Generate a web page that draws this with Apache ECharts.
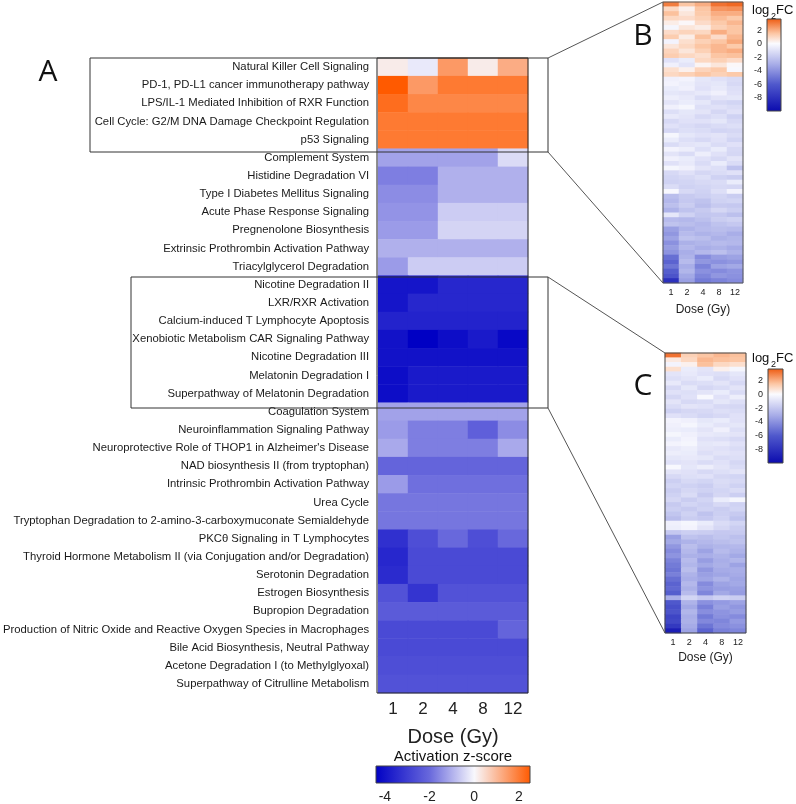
<!DOCTYPE html>
<html>
<head>
<meta charset="utf-8">
<script src="https://cdn.jsdelivr.net/npm/echarts@6/dist/echarts.min.js"></script>
<style>
  html, body { margin: 0; padding: 0; background: #ffffff; }
  #chart { width: 796px; height: 804px; }
</style>
</head>
<body>
<div id="chart"></div>
<script>
const doses = ["1", "2", "4", "8", "12"];

const pathways = [
  "Natural Killer Cell Signaling",
  "PD-1, PD-L1 cancer immunotherapy pathway",
  "LPS/IL-1 Mediated Inhibition of RXR Function",
  "Cell Cycle: G2/M DNA Damage Checkpoint Regulation",
  "p53 Signaling",
  "Complement System",
  "Histidine Degradation VI",
  "Type I Diabetes Mellitus Signaling",
  "Acute Phase Response Signaling",
  "Pregnenolone Biosynthesis",
  "Extrinsic Prothrombin Activation Pathway",
  "Triacylglycerol Degradation",
  "Nicotine Degradation II",
  "LXR/RXR Activation",
  "Calcium-induced T Lymphocyte Apoptosis",
  "Xenobiotic Metabolism CAR Signaling Pathway",
  "Nicotine Degradation III",
  "Melatonin Degradation I",
  "Superpathway of Melatonin Degradation",
  "Coagulation System",
  "Neuroinflammation Signaling Pathway",
  "Neuroprotective Role of THOP1 in Alzheimer's Disease",
  "NAD biosynthesis II (from tryptophan)",
  "Intrinsic Prothrombin Activation Pathway",
  "Urea Cycle",
  "Tryptophan Degradation to 2-amino-3-carboxymuconate Semialdehyde",
  "PKCθ Signaling in T Lymphocytes",
  "Thyroid Hormone Metabolism II (via Conjugation and/or Degradation)",
  "Serotonin Degradation",
  "Estrogen Biosynthesis",
  "Bupropion Degradation",
  "Production of Nitric Oxide and Reactive Oxygen Species in Macrophages",
  "Bile Acid Biosynthesis, Neutral Pathway",
  "Acetone Degradation I (to Methylglyoxal)",
  "Superpathway of Citrulline Metabolism"
];

// activation z-score, one row per pathway, columns = doses
const zScores = [
  [0.2, -0.2, 1.5, 0.2, 1.2],
  [2.5, 1.5, 2.0, 2.0, 2.0],
  [2.2, 1.8, 1.8, 1.8, 1.8],
  [2.0, 2.0, 2.0, 2.0, 2.0],
  [2.0, 2.0, 2.0, 2.0, 2.0],
  [-1.2, -1.2, -1.2, -1.2, -0.4],
  [-1.7, -1.7, -1.0, -1.0, -1.0],
  [-1.5, -1.5, -1.0, -1.0, -1.0],
  [-1.4, -1.4, -0.6, -0.6, -0.6],
  [-1.3, -1.3, -0.5, -0.5, -0.5],
  [-1.0, -1.0, -1.0, -1.0, -1.0],
  [-1.3, -0.6, -0.6, -0.6, -0.6],
  [-3.9, -3.9, -3.5, -3.5, -3.5],
  [-3.9, -3.5, -3.5, -3.5, -3.5],
  [-3.6, -3.6, -3.6, -3.6, -3.6],
  [-4.0, -4.4, -4.1, -3.8, -4.2],
  [-4.0, -4.0, -4.0, -4.0, -4.0],
  [-4.1, -3.8, -3.8, -3.8, -3.8],
  [-4.1, -3.8, -3.8, -3.8, -3.8],
  [-1.2, -1.2, -1.2, -1.2, -1.2],
  [-1.3, -1.7, -1.7, -2.2, -1.5],
  [-1.1, -1.7, -1.7, -1.7, -1.1],
  [-2.1, -2.1, -2.1, -2.1, -2.1],
  [-1.3, -1.9, -1.9, -1.9, -1.9],
  [-1.8, -1.8, -1.8, -1.8, -1.8],
  [-1.8, -1.8, -1.8, -1.8, -1.8],
  [-3.3, -2.6, -2.0, -2.6, -2.0],
  [-3.5, -2.7, -2.7, -2.7, -2.7],
  [-3.4, -2.7, -2.7, -2.7, -2.7],
  [-2.5, -3.2, -2.5, -2.5, -2.5],
  [-2.3, -2.3, -2.3, -2.3, -2.3],
  [-2.7, -2.7, -2.7, -2.7, -2.1],
  [-2.7, -2.7, -2.7, -2.7, -2.7],
  [-2.6, -2.6, -2.6, -2.6, -2.6],
  [-2.5, -2.5, -2.5, -2.5, -2.5]
];

// log2FC of genes in the upper boxed pathways (panel B)
const geneFcB = [
  [3.0, 1.5, 2.0, 3.2, 3.4], [1.0, 0.3, 1.5, 2.5, 2.6], [1.6, 0.6, 1.4, 2.0, 2.0],
  [1.0, 0.9, 1.2, 1.7, 1.4], [0.4, 0.1, 0.9, 1.4, 1.8], [-0.2, 0.6, 0.4, 1.2, 1.5],
  [0.9, 1.1, 1.0, 2.0, 1.5], [1.3, 0.4, 1.6, 0.9, 1.8], [-0.3, 0.8, 1.2, 1.5, 2.1],
  [0.6, 1.0, 1.5, 1.8, 1.4], [1.1, 0.6, 1.2, 1.8, 2.0], [1.3, 1.0, 0.8, 1.5, 1.6],
  [-1.0, -0.6, 1.0, 1.2, 0.9], [-0.4, -0.9, 0.2, 0.6, 0.1], [0.8, 0.3, 1.1, 1.4, -0.1],
  [1.0, 1.2, 1.5, 1.2, 1.4], [-0.4, -0.3, -0.8, -1.0, -1.2], [-0.3, -0.5, -0.9, -0.8, -1.3],
  [-0.6, -0.4, -1.0, -0.7, -1.1], [-0.8, -0.9, -0.7, -0.4, -1.0], [-0.5, -0.7, -1.2, -0.9, -0.8],
  [-0.9, -0.6, -0.8, -1.3, -1.5], [-0.4, -0.2, -1.1, -1.0, -1.2], [-1.1, -0.8, -0.9, -1.4, -1.0],
  [-0.7, -0.9, -1.3, -1.1, -1.6], [-1.3, -1.0, -1.0, -0.8, -1.3], [-1.0, -1.2, -1.4, -1.2, -1.1],
  [-1.4, -1.1, -1.2, -1.5, -1.4], [-0.2, -0.8, -1.0, -0.9, -1.2], [-0.6, -1.1, -1.3, -1.0, -1.5],
  [-1.2, -0.9, -0.8, -1.2, -1.0], [-0.3, -0.5, -1.1, -0.6, -1.3], [-0.9, -1.2, -0.5, -1.0, -1.4],
  [-0.4, -0.6, -1.0, -1.3, -0.9], [-1.0, -0.7, -1.2, -0.6, -1.2], [-0.2, -0.4, -0.9, -1.1, -2.2],
  [-1.3, -1.0, -1.4, -1.2, -1.0], [-1.5, -1.3, -1.1, -1.6, -1.8], [-1.6, -1.5, -1.3, -1.2, -0.6],
  [-1.2, -1.6, -1.5, -1.3, -1.4], [-0.1, -1.3, -1.6, -1.1, -0.3], [-2.4, -1.9, -1.7, -1.5, -1.8],
  [-2.6, -2.0, -2.2, -1.6, -1.5], [-2.3, -1.8, -2.4, -1.9, -2.0], [-2.8, -2.2, -1.9, -1.4, -1.7],
  [-0.8, -1.6, -2.1, -2.0, -2.3], [-2.5, -2.6, -2.3, -1.8, -1.6], [-2.2, -2.4, -2.6, -2.2, -2.0],
  [-3.5, -2.8, -2.5, -2.4, -2.5], [-3.8, -2.5, -2.8, -2.6, -3.0], [-3.4, -2.2, -2.4, -2.9, -2.7],
  [-4.0, -2.9, -2.7, -2.5, -2.6], [-3.6, -2.6, -3.0, -2.8, -3.1], [-3.9, -3.0, -2.6, -2.3, -2.8],
  [-5.2, -2.8, -4.2, -3.6, -3.4], [-5.6, -2.5, -3.8, -4.0, -3.8], [-5.0, -3.0, -4.5, -3.4, -3.2],
  [-5.8, -2.7, -4.0, -4.2, -3.9], [-6.2, -3.2, -4.4, -3.8, -4.0], [-8.0, -3.5, -4.8, -4.5, -4.2]
];

// log2FC of genes in the lower boxed pathways (panel C)
const geneFcC = [
  [3.2, 1.2, 1.5, 1.8, 1.6], [0.5, 1.0, 1.8, 1.6, 1.5], [-0.3, 0.3, 1.6, 1.0, 0.8],
  [0.8, -0.6, -0.9, 0.3, -0.2], [-0.9, -0.7, -1.0, -1.1, -0.8], [-1.1, -0.9, -0.6, -1.3, -1.0],
  [-0.7, -1.2, -1.1, -0.9, -1.3], [-1.3, -0.8, -1.4, -1.2, -0.9], [-1.0, -1.1, -0.9, -0.6, -1.2],
  [-1.4, -1.0, -0.1, -1.0, -0.5], [-0.9, -1.3, -1.2, -0.8, -1.1], [-1.2, -0.9, -1.0, -1.3, -1.4],
  [-1.6, -1.4, -1.3, -1.1, -1.2], [-1.0, -1.2, -1.5, -1.3, -1.0], [-0.3, -0.4, -0.8, -0.6, -1.0],
  [-0.4, -0.2, -0.6, -0.9, -0.8], [-0.5, -0.6, -0.9, -0.4, -1.1], [-0.2, -0.4, -0.7, -0.8, -0.9],
  [-0.6, -0.3, -1.0, -1.1, -1.3], [-0.3, -0.2, -0.8, -0.7, -1.0], [-0.7, -0.5, -0.9, -1.0, -1.2],
  [-0.5, -0.6, -1.1, -0.9, -1.0], [-0.8, -0.7, -0.8, -1.2, -1.1], [-1.0, -0.9, -1.2, -1.0, -1.4],
  [-0.1, -0.8, -0.5, -0.9, -1.2], [-0.9, -1.0, -1.3, -1.1, -0.9], [-1.3, -1.1, -1.0, -1.4, -1.5],
  [-1.7, -1.3, -1.5, -1.2, -1.3], [-1.5, -1.6, -1.8, -1.3, -1.6], [-1.8, -1.4, -1.6, -1.5, -1.2],
  [-1.6, -1.2, -1.9, -1.4, -1.7], [-1.4, -1.8, -1.5, -0.6, -0.2], [-1.9, -1.5, -1.7, -1.3, -1.6],
  [-1.7, -1.9, -1.6, -1.8, -1.5], [-2.1, -1.6, -2.2, -1.7, -1.9], [-2.4, -1.8, -2.0, -1.6, -2.2],
  [-0.4, -0.2, -0.6, -1.2, -1.5], [-0.5, -0.3, -0.9, -1.4, -1.8], [-2.0, -1.7, -1.8, -2.0, -1.9],
  [-3.5, -2.2, -2.4, -2.1, -2.3], [-3.2, -2.8, -2.6, -2.4, -2.2], [-3.8, -2.4, -2.9, -2.7, -2.6],
  [-4.2, -2.6, -3.4, -2.5, -2.8], [-3.9, -2.9, -3.0, -2.8, -3.2], [-4.5, -2.5, -3.6, -3.0, -2.7],
  [-4.8, -2.7, -3.2, -2.9, -3.4], [-5.0, -2.4, -3.8, -3.1, -3.0], [-4.6, -2.8, -3.5, -3.3, -3.1],
  [-5.2, -3.0, -3.3, -2.8, -3.3], [-5.6, -2.6, -4.2, -3.4, -3.2], [-5.4, -2.9, -3.9, -3.6, -3.5],
  [-5.8, -2.5, -4.4, -3.2, -3.6], [-3.0, -1.5, -2.0, -1.6, -1.8], [-6.0, -2.8, -4.0, -3.7, -3.4],
  [-6.4, -3.2, -4.6, -3.5, -3.8], [-6.2, -2.7, -4.1, -3.9, -3.6], [-7.0, -3.0, -4.8, -4.0, -4.2],
  [-6.8, -2.9, -4.3, -4.4, -3.7], [-7.6, -3.1, -5.0, -4.2, -4.0], [-9.0, -3.4, -5.6, -4.6, -4.4]
];

const zTicks = [-4, -2, 0, 2];
const fcTicks = [2, 0, -2, -4, -6, -8];

const FONT = "Liberation Sans";
const zRange = [-4.4, 2.5];
const fcRange = [-10, 3.7];
const zStops = [[-4.4, "#0000c4"], [-2, "#6868dc"], [0, "#f8f8fd"], [2.5, "#ff5a00"]];
const fcStops = [[-10, "#0a0aae"], [-6, "#4f58cc"], [-3, "#a9aee8"], [0, "#fbfbff"], [1.5, "#fcc6a4"], [3.7, "#ee5a10"]];

function hexToRgb(h) {
  return [1, 3, 5].map(i => parseInt(h.slice(i, i + 2), 16));
}
function colorAt(stops, v) {
  for (let i = 0; i < stops.length - 1; i++) {
    const [a, ca] = stops[i], [b, cb] = stops[i + 1];
    if (v <= b || i === stops.length - 2) {
      const t = Math.max(0, Math.min(1, (v - a) / (b - a)));
      const p = hexToRgb(ca), q = hexToRgb(cb);
      return "rgb(" + p.map((x, k) => Math.round(x + (q[k] - x) * t)).join(",") + ")";
    }
  }
}
// sample the piecewise scale evenly so visualMap reproduces it
function paletteFor(stops, range) {
  const out = [];
  for (let i = 0; i <= 80; i++) out.push(colorAt(stops, range[0] + (range[1] - range[0]) * i / 80));
  return out;
}
function gradientStops(stops, range, flip) {
  const s = stops.map(([v, c]) => {
    const o = (v - range[0]) / (range[1] - range[0]);
    return { offset: flip ? 1 - o : o, color: c };
  });
  return s.sort((a, b) => a.offset - b.offset);
}
function toCells(rows) {
  const out = [];
  rows.forEach((r, y) => r.forEach((v, x) => out.push([x, y, v])));
  return out;
}

// panel positions (px)
const gA = { left: 377, top: 58, width: 151, height: 635 };
const gB = { left: 663, top: 2, width: 80, height: 281 };
const gC = { left: 665, top: 353, width: 81, height: 280 };
const cbA = { left: 376, top: 766, width: 154, height: 17 };
const cbB = { left: 767, top: 19, width: 14, height: 92 };
const cbC = { left: 768, top: 369, width: 15, height: 94 };

function doseAxis(gridIndex, size, margin, nameSize, nameGap) {
  return {
    type: "category", gridIndex, data: doses,
    axisLine: { show: false },
    axisTick: { alignWithLabel: true, length: 4, lineStyle: { color: "#333" } },
    axisLabel: { fontSize: size, color: "#222", margin, fontFamily: FONT },
    name: "Dose (Gy)", nameLocation: "middle", nameGap,
    nameTextStyle: { fontSize: nameSize, color: "#222", fontFamily: FONT }
  };
}
function hiddenCat(gridIndex, n) {
  return {
    type: "category", gridIndex, inverse: true,
    data: Array.from({ length: n }, (_, i) => String(i)),
    axisLine: { show: false }, axisTick: { show: false }, axisLabel: { show: false }
  };
}
function fcAxis(gridIndex) {
  return {
    type: "value", gridIndex, min: fcRange[0], max: fcRange[1], position: "left",
    axisLine: { show: false }, splitLine: { show: false },
    axisTick: { show: true, inside: true, length: 3, customValues: fcTicks, lineStyle: { color: "#333" } },
    axisLabel: { fontSize: 9, color: "#222", margin: 5, customValues: fcTicks, fontFamily: FONT }
  };
}
function frame(g, color) {
  return {
    type: "rect", z: 100, silent: true,
    shape: { x: g.left, y: g.top, width: g.width, height: g.height },
    style: { fill: "none", stroke: color, lineWidth: 1 }
  };
}
function bar(g, stops, range, vertical) {
  return {
    type: "rect", z: 50, silent: true,
    shape: { x: g.left, y: g.top, width: g.width, height: g.height },
    style: {
      fill: new echarts.graphic.LinearGradient(0, 0, vertical ? 0 : 1, vertical ? 1 : 0,
        gradientStops(stops, range, vertical)),
      stroke: "#444", lineWidth: 1
    }
  };
}
function line(x1, y1, x2, y2) {
  return {
    type: "line", z: 100, silent: true,
    shape: { x1, y1, x2, y2 },
    style: { stroke: "#555", lineWidth: 1 }
  };
}
function label(text, x, y, size, extra) {
  return {
    type: "text", z: 100, silent: true, x, y,
    style: Object.assign({ text, fontSize: size, fill: "#111", fontFamily: FONT, align: "center", verticalAlign: "middle" }, extra || {})
  };
}
function log2fc(x, y) {
  return [
    label("log", x, y, 13, { align: "left" }),
    label("2", x + 19, y + 7, 9, { align: "left" }),
    label("FC", x + 24, y, 13, { align: "left" })
  ];
}

const option = {
  animation: false,
  backgroundColor: "#ffffff",
  grid: [gA, gB, gC, cbA, cbB, cbC].map(g => Object.assign({ containLabel: false }, g)),
  xAxis: [
    doseAxis(0, 17, 8, 20, 34),
    doseAxis(1, 9, 5, 12, 21),
    doseAxis(2, 9, 5, 12, 19),
    {
      type: "value", gridIndex: 3, min: zRange[0], max: zRange[1],
      axisLine: { show: false }, splitLine: { show: false },
      axisTick: { show: true, inside: true, length: 4, customValues: zTicks, lineStyle: { color: "#222" } },
      axisLabel: { fontSize: 14, color: "#222", margin: 10, customValues: zTicks, fontFamily: FONT }
    },
    { type: "value", gridIndex: 4, show: false },
    { type: "value", gridIndex: 5, show: false },
    {
      type: "value", gridIndex: 3, position: "top", min: zRange[0], max: zRange[1],
      axisLine: { show: false }, splitLine: { show: false }, axisLabel: { show: false },
      axisTick: { show: true, inside: true, length: 4, customValues: zTicks, lineStyle: { color: "#222" } }
    }
  ],
  yAxis: [
    {
      type: "category", gridIndex: 0, data: pathways, inverse: true,
      axisLine: { show: false },
      axisTick: { alignWithLabel: true, length: 4, lineStyle: { color: "#333" } },
      axisLabel: { fontSize: 11.3, color: "#1a1a1a", margin: 9, fontFamily: FONT }
    },
    hiddenCat(1, geneFcB.length),
    hiddenCat(2, geneFcC.length),
    { type: "value", gridIndex: 3, show: false },
    fcAxis(4),
    fcAxis(5)
  ],
  visualMap: [
    { type: "continuous", show: false, seriesIndex: 0, min: zRange[0], max: zRange[1], inRange: { color: paletteFor(zStops, zRange) } },
    { type: "continuous", show: false, seriesIndex: 1, min: fcRange[0], max: fcRange[1], inRange: { color: paletteFor(fcStops, fcRange) } },
    { type: "continuous", show: false, seriesIndex: 2, min: fcRange[0], max: fcRange[1], inRange: { color: paletteFor(fcStops, fcRange) } }
  ],
  series: [
    { type: "heatmap", xAxisIndex: 0, yAxisIndex: 0, data: toCells(zScores), itemStyle: { borderWidth: 0 } },
    { type: "heatmap", xAxisIndex: 1, yAxisIndex: 1, data: toCells(geneFcB), itemStyle: { borderWidth: 0 } },
    { type: "heatmap", xAxisIndex: 2, yAxisIndex: 2, data: toCells(geneFcC), itemStyle: { borderWidth: 0 } }
  ],
  graphic: [
    frame(gA, "#222"),
    frame(gB, "#555"),
    frame(gC, "#444"),
    bar(cbA, zStops, zRange, false),
    bar(cbB, fcStops, fcRange, true),
    bar(cbC, fcStops, fcRange, true),
    // boxes around the zoomed pathway groups
    { type: "rect", z: 100, silent: true, shape: { x: 90, y: 58, width: 458, height: 94 }, style: { fill: "none", stroke: "#333", lineWidth: 1 } },
    { type: "rect", z: 100, silent: true, shape: { x: 131, y: 277, width: 417, height: 131 }, style: { fill: "none", stroke: "#333", lineWidth: 1 } },
    line(548, 58, 663, 2),
    line(548, 152, 663, 283),
    line(548, 277, 665, 353),
    line(548, 408, 665, 633),
    label("A", 48, 72, 30, { fontFamily: "Open Sans" }),
    label("B", 643, 36, 30, { fontFamily: "Open Sans" }),
    label("C", 643, 386, 30, { fontFamily: "Open Sans" }),
    label("Activation z-score", 453, 757, 15),
    ...log2fc(752, 10),
    ...log2fc(752, 358)
  ]
};

const chartObj = echarts.init(document.getElementById("chart"));
chartObj.setOption(option);
window.addEventListener("resize", function() {
  chartObj.resize();
});
</script>
</body>
</html>
